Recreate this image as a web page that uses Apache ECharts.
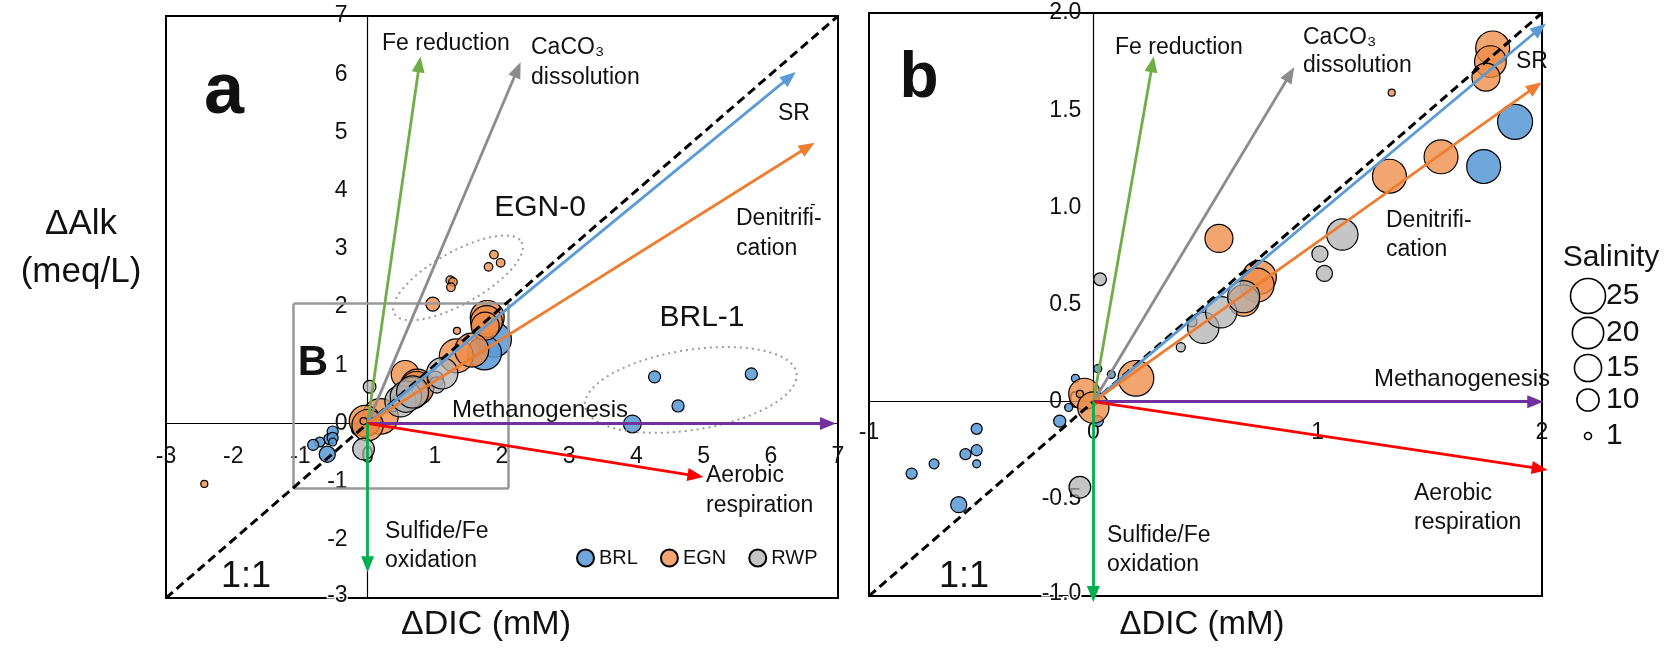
<!DOCTYPE html>
<html>
<head>
<meta charset="utf-8">
<script src="https://cdn.jsdelivr.net/npm/echarts@6/dist/echarts.min.js"></script>
<style>
  html, body { margin: 0; padding: 0; background: #fff; }
  #chart { width: 1673px; height: 650px; }
</style>
</head>
<body>
<div id="chart"></div>
<script>
// Each sample: [ΔDIC (mM), ΔAlk (meq/L), salinity]
const brl = [
  [1.88, 1.44, 25], [1.74, 1.21, 23.5],
  [-0.52, -0.14, 2.5], [-0.57, -0.27, 2.5], [-0.52, -0.25, 2.5], [-0.52, -0.32, 1.3],
  [-0.71, -0.32, 2], [-0.81, -0.37, 2.5], [-0.60, -0.53, 5.3], [-0.15, -0.10, 3],
  [-0.08, 0.12, 1.3], [0.02, 0.17, 1.3], [0.08, 0.14, 1.3], [0.02, -0.10, 2.5], [-0.11, -0.03, 1.3],
  [3.94, -0.01, 6.5], [4.27, 0.80, 3], [4.62, 0.30, 3], [5.71, 0.85, 3]
];
const egn = [
  [1.78, 1.82, 23.5], [1.77, 1.75, 20.5], [1.75, 1.67, 16], [1.32, 1.16, 23.5], [1.55, 1.26, 23.5],
  [0.56, 0.84, 16], [0.19, 0.12, 26], [0.74, 0.64, 23.5], [0.73, 0.60, 23.5], [0.67, 0.52, 20],
  [1.33, 1.59, 1], [-0.04, 0.04, 20], [0.00, -0.03, 20], [-0.06, 0.04, 1],
  [0.97, 2.05, 4], [1.23, 2.46, 1.5], [1.27, 2.43, 1.5], [1.24, 2.34, 1.5],
  [1.80, 2.69, 1.5], [1.88, 2.90, 1.5], [1.98, 2.76, 1.5], [-2.43, -1.04, 1]
];
const rwp = [
  [0.03, 0.63, 3.3], [-0.06, -0.44, 9.6], [0.39, 0.28, 1.7], [0.44, 0.41, 2],
  [0.49, 0.38, 20], [0.57, 0.46, 20], [0.67, 0.54, 21],
  [1.01, 0.76, 5.3], [1.03, 0.66, 5.3], [1.11, 0.86, 20]
];

// Reaction vectors drawn from the origin (ΔDIC, ΔAlk end points):
// Fe reduction, CaCO3 dissolution, SR, denitrification, methanogenesis,
// aerobic respiration, sulfide/Fe oxidation
const vectorTipsA = [[0.77, 6.17], [2.23, 6.08], [6.28, 5.95], [6.55, 4.75], [6.85, 0], [4.88, -0.9], [0, -2.42]];
const vectorTipsB = [[0.263, 1.736], [0.877, 1.685], [1.99, 1.92], [1.97, 1.62], [1.97, 0], [1.99, -0.345], [0, -0.99]];

// Axis ranges and salinity key
const rangeA = [-3, 7];
const rangeB = [-1, 2];
const salinityKey = [25, 20, 15, 10, 1];

// Zoom-in box of panel b, drawn on panel a
const zoomBox = { x0: -1.1, x1: 2.1, y0: -1.12, y1: 2.06 };

const FONT = 'Liberation Sans, Arial, sans-serif';
const vectorColors = ['#70AD47', '#8C8C8C', '#5B9BD5', '#ED7D31', '#7030A0', '#FF0000', '#00B050'];
const siteStyle = {
  BRL: 'rgba(91,155,213,0.88)',
  EGN: 'rgba(240,140,70,0.78)',
  RWP: 'rgba(175,175,175,0.72)'
};
const sizeOf = s => 7 * Math.sqrt(s);

const grids = [
  { left: 166, top: 16, width: 672, height: 582 },
  { left: 869, top: 13, width: 673, height: 583 }
];

// The lowest y label sits on the frame line, so it gets a white halo.
const edgeRich = {
  m: { fontSize: 23, fontFamily: FONT, color: '#111', textBorderColor: '#fff', textBorderWidth: 3, padding: [0, 0, 4, 0] }
};
function yFormatter(range, digits) {
  return v => {
    const s = digits ? v.toFixed(digits) : String(v);
    return v === range[0] ? '{m|' + s + '}' : s;
  };
}

// Axes cross at zero: shift each axis from the grid edge to the zero position.
function axis(range, interval, lengthPx, margin, fmt) {
  return {
    type: 'value', min: range[0], max: range[1], interval: interval, z: 1,
    offset: -lengthPx * (0 - range[0]) / (range[1] - range[0]),
    axisLine: { onZero: false, lineStyle: { color: '#000', width: 1.2 } },
    axisTick: { show: false },
    splitLine: { show: false },
    axisLabel: { fontSize: 23, color: '#111', fontFamily: FONT, margin: margin,
                 showMinLabel: true, showMaxLabel: true, formatter: fmt, rich: edgeRich }
  };
}

function siteSeries(name, data, gi) {
  return {
    name: name, type: 'scatter', xAxisIndex: gi, yAxisIndex: gi, data: data,
    symbolSize: d => sizeOf(d[2]),
    itemStyle: { color: siteStyle[name], borderColor: '#000', borderWidth: 1.2, opacity: 1 },
    emphasis: { disabled: true }, clip: true, z: 2
  };
}

function vectorSeries(tips, gi) {
  return {
    type: 'scatter', xAxisIndex: gi, yAxisIndex: gi, data: [], z: 6, silent: true,
    markLine: {
      silent: true, animation: false, symbol: ['none', 'triangle'], symbolSize: [13, 16],
      label: { show: false },
      lineStyle: { type: 'solid', width: 2.8 },
      data: tips.map((t, i) => [
        { coord: [0, 0], lineStyle: { color: vectorColors[i] }, itemStyle: { color: vectorColors[i] } },
        { coord: t }
      ])
    }
  };
}

function oneToOne(range, gi) {
  return {
    type: 'scatter', xAxisIndex: gi, yAxisIndex: gi, data: [], z: 5, silent: true,
    markLine: {
      silent: true, animation: false, symbol: ['none', 'none'], label: { show: false },
      lineStyle: { type: [9, 5], color: '#000', width: 3 },
      data: [[{ coord: [range[0], range[0]] }, { coord: [range[1], range[1]] }]]
    }
  };
}

const b = zoomBox;
const boxSeries = {
  type: 'scatter', xAxisIndex: 0, yAxisIndex: 0, data: [], z: 4, silent: true,
  markLine: {
    silent: true, animation: false, symbol: ['none', 'none'], label: { show: false },
    lineStyle: { type: 'solid', color: '#999', width: 2.5 },
    data: [
      [{ coord: [b.x0, b.y0] }, { coord: [b.x1, b.y0] }],
      [{ coord: [b.x1, b.y0] }, { coord: [b.x1, b.y1] }],
      [{ coord: [b.x1, b.y1] }, { coord: [b.x0, b.y1] }],
      [{ coord: [b.x0, b.y1] }, { coord: [b.x0, b.y0] }]
    ]
  }
};

const option = {
  animation: false,
  backgroundColor: '#fff',
  textStyle: { fontFamily: FONT },
  grid: grids.map(g => Object.assign({ show: true, borderColor: '#000', borderWidth: 2, backgroundColor: 'transparent' }, g)),
  xAxis: [
    axis(rangeA, 1, grids[0].height, 22),
    Object.assign(axis(rangeB, 1, grids[1].height, 19), { gridIndex: 1 })
  ],
  yAxis: [
    axis(rangeA, 1, grids[0].width, 20, yFormatter(rangeA, 0)),
    Object.assign(axis(rangeB, 0.5, grids[1].width, 12, yFormatter(rangeB, 1)), { gridIndex: 1 })
  ],
  legend: {
    data: ['BRL', 'EGN', 'RWP'], left: 576, top: 548, padding: 0,
    itemWidth: 17, itemHeight: 17, itemGap: 22, icon: 'circle', selectedMode: false,
    textStyle: { fontSize: 20, color: '#111', fontFamily: FONT }
  },
  series: [
    siteSeries('BRL', brl, 0), siteSeries('EGN', egn, 0), siteSeries('RWP', rwp, 0),
    siteSeries('BRL', brl, 1), siteSeries('EGN', egn, 1), siteSeries('RWP', rwp, 1),
    boxSeries,
    oneToOne(rangeA, 0), oneToOne(rangeB, 1),
    vectorSeries(vectorTipsA, 0), vectorSeries(vectorTipsB, 1)
  ]
};

const chart = echarts.init(document.getElementById('chart'));
chart.setOption(option);

// ---- annotations ----
function txt(text, x, y, size, opts) {
  opts = opts || {};
  return {
    type: 'text', x: x, y: y, z: 20, silent: true,
    style: {
      text: text, fontSize: size, fontFamily: FONT, fontWeight: opts.bold ? 'bold' : 'normal',
      fill: '#111', align: opts.align || 'left', verticalAlign: opts.va || 'middle',
      lineHeight: opts.lh || Math.round(size * 1.25)
    }
  };
}

function ellipse(gi, center, a, bb, deg) {
  const c = chart.convertToPixel({ gridIndex: gi }, center);
  const th = deg * Math.PI / 180;
  const pts = [];
  for (let k = 0; k < 120; k++) {
    const t = k / 120 * Math.PI * 2;
    pts.push([c[0] + a * Math.cos(t) * Math.cos(th) + bb * Math.sin(t) * Math.sin(th),
              c[1] - a * Math.cos(t) * Math.sin(th) + bb * Math.sin(t) * Math.cos(th)]);
  }
  return { type: 'polygon', z: 3, silent: true, shape: { points: pts },
           style: { fill: 'rgba(0,0,0,0)', stroke: '#9a9a9a', lineWidth: 2, lineDash: [2, 4] } };
}

const graphics = [
  // axis titles
  txt('\u0394Alk\n(meq/L)', 81, 200, 35, { align: 'center', va: 'top', lh: 48 }),
  txt('\u0394DIC (mM)', 486, 625, 34, { align: 'center' }),
  txt('\u0394DIC (mM)', 1202, 625, 33, { align: 'center' }),

  // panel a
  txt('a', 224, 93, 72, { bold: true, align: 'center' }),
  txt('B', 313, 363, 42, { bold: true, align: 'center' }),
  txt('Fe reduction', 382, 44, 23),
  txt('CaCO\u2083', 531, 48, 23),
  txt('dissolution', 531, 78, 23),
  txt('SR', 794, 114, 23, { align: 'center' }),
  txt('Denitrifi-\ncation', 736, 204, 23, { va: 'top', lh: 30 }),
  txt('Methanogenesis', 540, 410, 24, { align: 'center' }),
  txt('Aerobic\nrespiration', 706, 461, 23, { va: 'top', lh: 30 }),
  txt('Sulfide/Fe\noxidation', 385, 517, 23, { va: 'top', lh: 29 }),
  txt('EGN-0', 540, 208, 30, { align: 'center' }),
  txt('BRL-1', 702, 318, 30, { align: 'center' }),
  txt('1:1', 246, 577, 36, { align: 'center' }),
  txt('-', 813, 205, 16, { align: 'center' }),
  ellipse(0, [1.345, 2.50], 73, 26, 29.4),
  ellipse(0, [4.81, 0.575], 107, 40, 9),

  // panel b
  txt('b', 919, 79, 64, { bold: true, align: 'center' }),
  txt('Fe reduction', 1115, 48, 23),
  txt('CaCO\u2083', 1303, 38, 23),
  txt('dissolution', 1303, 66, 23),
  txt('SR', 1516, 62, 23),
  txt('Denitrifi-\ncation', 1386, 206, 23, { va: 'top', lh: 29 }),
  txt('Methanogenesis', 1374, 379, 24),
  txt('Aerobic\nrespiration', 1414, 479, 23, { va: 'top', lh: 29 }),
  txt('Sulfide/Fe\noxidation', 1107, 521, 23, { va: 'top', lh: 29 }),
  txt('1:1', 964, 577, 36, { align: 'center' }),

  // salinity key
  txt('Salinity', 1611, 258, 30, { align: 'center' })
];

const keyRows = [296, 333, 368, 400, 436];
salinityKey.forEach((s, i) => {
  graphics.push({
    type: 'circle', z: 20, silent: true,
    shape: { cx: 1588, cy: keyRows[i], r: sizeOf(s) / 2 },
    style: { fill: '#fff', stroke: '#000', lineWidth: 1.6 }
  });
  graphics.push(txt(String(s), 1606, keyRows[i], 30));
});

chart.setOption({ graphic: graphics });
</script>
</body>
</html>
